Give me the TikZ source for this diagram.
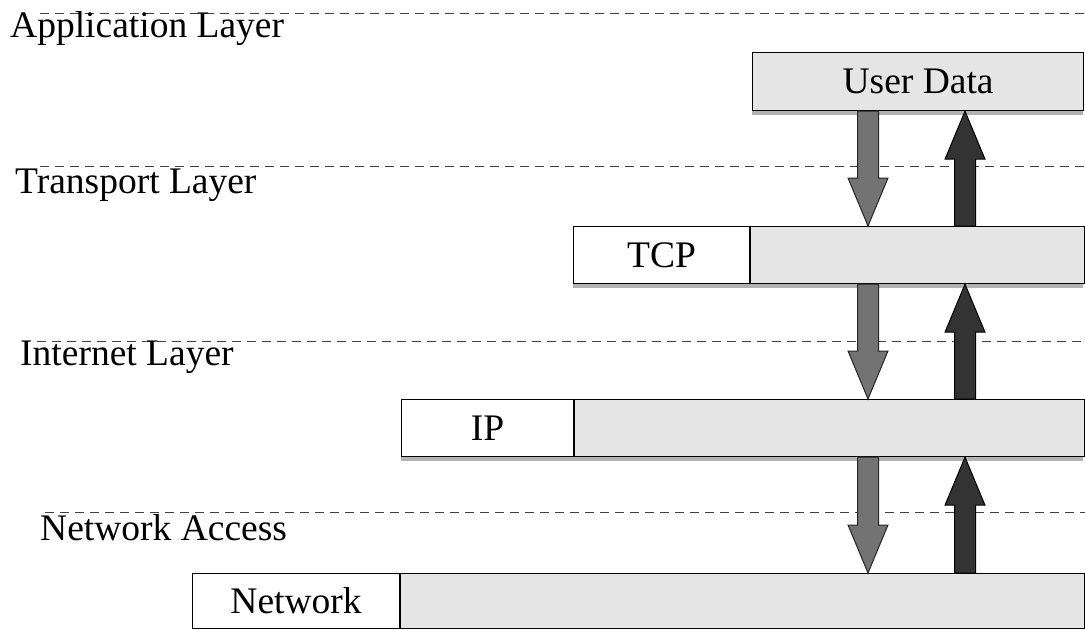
\documentclass[tikz,border=0pt]{standalone}
\usepackage{fontspec}
\setmainfont{Liberation Serif}
\usetikzlibrary{calc}

\tikzset{
  bigtext/.style={font=\fontsize{37.5}{40}\selectfont},
  layer/.style={bigtext, anchor=base west, inner sep=0pt},
  hdr/.style={bigtext, draw=black, line width=1.2pt, fill=white, anchor=north west, inner sep=0pt},
  payload/.style={bigtext, draw=black, line width=1.2pt, fill=gray!20, anchor=north west, inner sep=0pt},
  shadow/.style={fill=gray!60, draw=none},
  sep/.style={dash pattern=on 9pt off 6pt, line width=1pt, draw=black!75},
  downarr/.style={fill=black!55, draw=black!85, line width=1pt, line join=miter},
  uparr/.style={fill=black!80, draw=black, line width=1pt, line join=miter},
}

% block arrow: #1 style, #2 start point, #3 tip point
\newcommand\blockarrow[3]{%
  \draw[#1] let \p1=(#2), \p2=(#3),
    \n1={(\y1-\y2)/abs(\y1-\y2)} in
    ({\x1-10.5pt},\y1) -- ({\x1-10.5pt},{\y2+\n1*48pt}) --
    ({\x1-20pt},{\y2+\n1*48pt}) -- (\x1,\y2) --
    ({\x1+20pt},{\y2+\n1*48pt}) -- ({\x1+10.5pt},{\y2+\n1*48pt}) --
    ({\x1+10.5pt},\y1) -- cycle;}

\begin{document}
\begin{tikzpicture}[x=1pt, y=-1pt]
\useasboundingbox (0,0) rectangle (1085,630);

% layer separators
\draw[sep] (40,13) -- (1085,13);
\draw[sep] (40,166) -- (1085,166);
\draw[sep] (37,341) -- (1085,341);
\draw[sep] (45,512) -- (1085,512);

% layer names
\node[layer] (lapp) at (10,37) {Application Layer};
\node[layer] (ltra) at (15,193) {Transport Layer};
\node[layer] (lint) at (20,365) {Internet Layer};
\node[layer] (lnet) at (40,540) {Network Access};

% shadows under the frames
\fill[shadow] (752,110) rectangle (1083,115);
\fill[shadow] (573,283) rectangle (1083,288);
\fill[shadow] (401,456) rectangle (1083,461);

% frames
\node[payload, minimum width=331pt, minimum height=58pt] (ud) at (752,52) {User Data};

\node[hdr, minimum width=176pt, minimum height=57pt] (tcph) at (573,226) {TCP};
\node[payload, minimum width=334pt, minimum height=57pt] (tcpd) at (tcph.north east) {};

\node[hdr, minimum width=172pt, minimum height=57pt] (iph) at (401,399) {IP};
\node[payload, minimum width=510pt, minimum height=57pt] (ipd) at (iph.north east) {};

\node[hdr, minimum width=207pt, minimum height=55pt] (neth) at (192,573) {Network};
\node[payload, minimum width=684pt, minimum height=55pt] (netd) at (neth.north east) {};

% arrow columns
\coordinate (dnx) at (868,0);
\coordinate (upx) at (965,0);

\blockarrow{downarr}{ud.south -| dnx}{tcpd.north -| dnx}
\blockarrow{uparr}{tcpd.north -| upx}{ud.south -| upx}

\blockarrow{downarr}{tcpd.south -| dnx}{ipd.north -| dnx}
\blockarrow{uparr}{ipd.north -| upx}{tcpd.south -| upx}

\blockarrow{downarr}{ipd.south -| dnx}{netd.north -| dnx}
\blockarrow{uparr}{netd.north -| upx}{ipd.south -| upx}
\end{tikzpicture}
\end{document}
